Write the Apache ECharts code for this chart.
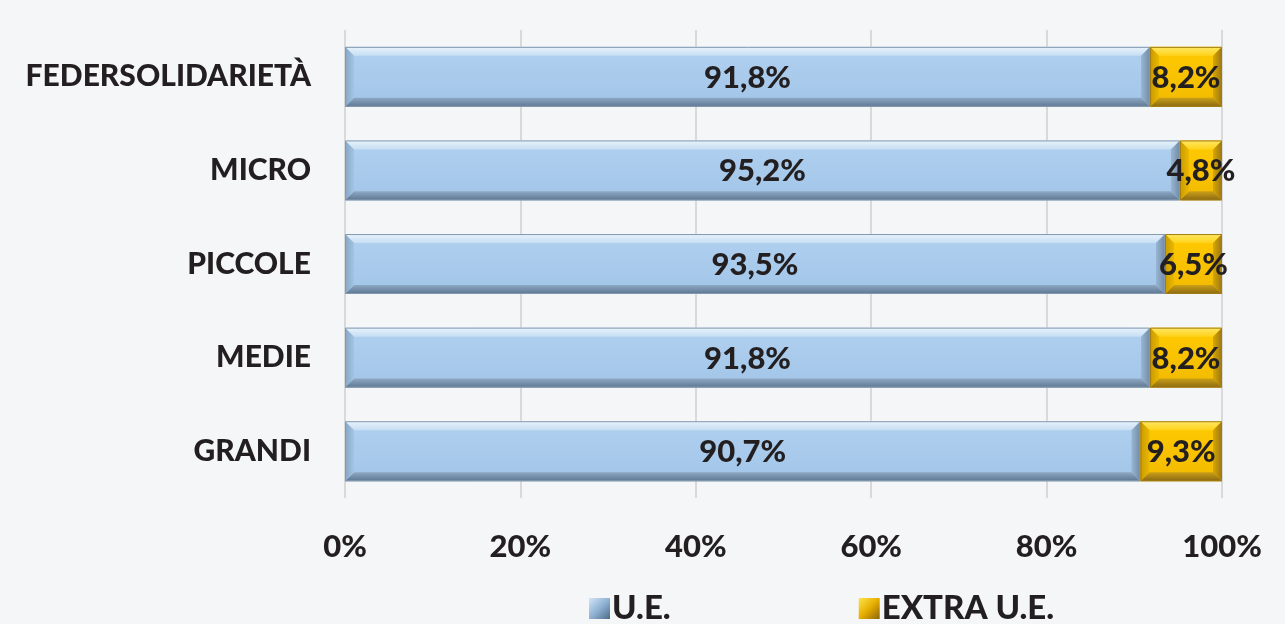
<!DOCTYPE html>
<html>
<head>
<meta charset="utf-8">
<script src="https://cdn.jsdelivr.net/npm/echarts@6/dist/echarts.min.js"></script>
<style>
html,body{margin:0;padding:0;background:#f5f6f8;}
#c{width:1285px;height:624px;}
</style>
</head>
<body>
<div id="c"></div>
<script>
const categories = ['GRANDI', 'MEDIE', 'PICCOLE', 'MICRO', 'FEDERSOLIDARIETÀ'];
const seriesNames = ['U.E.', 'EXTRA U.E.'];
const ueValues = [90.7, 91.8, 93.5, 95.2, 91.8];
const extraValues = [9.3, 8.2, 6.5, 4.8, 8.2];
const xTicks = [0, 20, 40, 60, 80, 100];

const FONT = 'Lato, "Open Sans", sans-serif';
const fmt = v => v.toFixed(1).replace('.', ',') + '%';

// stacked segments built from the arrays: [categoryIndex, start, end, value]
const ueData = ueValues.map((v, i) => [i, 0, v, v]);
const extraData = extraValues.map((v, i) => [i, ueValues[i], ueValues[i] + v, v]);

const lg = (x0, y0, x1, y1, a, b) => new echarts.graphic.LinearGradient(x0, y0, x1, y1, [{offset: 0, color: a}, {offset: 1, color: b}]);

const palettes = {
  blue: {
    main: lg(0,0,0,1,'#b0d0ef','#a2c5e8'),
    top: lg(0,0,0,1,'#e8f3fc','#c6def3'),
    bottom: lg(0,0,0,1,'#8ea9c4','#5d7590'),
    left: lg(0,0,1,0,'#87a6c4','#a3c4e4'),
    right: lg(0,0,1,0,'#98b6d4','#718aa4'),
    stroke: '#8499ad'
  },
  gold: {
    main: lg(0,0,0,1,'#ffca00','#f2ba00'),
    top: lg(0,0,0,1,'#ffe866','#ffd21a'),
    bottom: lg(0,0,0,1,'#caa018','#8a6812'),
    left: lg(0,0,1,0,'#c99a00','#eab800'),
    right: lg(0,0,1,0,'#d8a700','#9a7614'),
    stroke: '#a07c14'
  }
};

function makeRender(pal) {
  return function (params, api) {
    const cat = api.value(0);
    const p0 = api.coord([api.value(1), cat]);
    const p1 = api.coord([api.value(2), cat]);
    const h = api.size([0, 1])[1] * 0.64;
    const x0 = p0[0], x1 = p1[0];
    const y0 = p0[1] - h / 2, y1 = p0[1] + h / 2;
    const w = x1 - x0;
    const bx = Math.min(9, w / 2.5), by = 9;
    const poly = (pts, fill) => ({type: 'polygon', shape: {points: pts}, style: {fill: fill}});
    return {
      type: 'group',
      children: [
        {type: 'rect', shape: {x: x0, y: y0, width: w, height: h}, style: {fill: pal.main}},
        poly([[x0,y0],[x1,y0],[x1-bx,y0+by],[x0+bx,y0+by]], pal.top),
        poly([[x0,y1],[x1,y1],[x1-bx,y1-by],[x0+bx,y1-by]], pal.bottom),
        poly([[x0,y0],[x0+bx,y0+by],[x0+bx,y1-by],[x0,y1]], pal.left),
        poly([[x1,y0],[x1-bx,y0+by],[x1-bx,y1-by],[x1,y1]], pal.right),
        {type: 'rect', shape: {x: x0 + 0.5, y: y0 + 0.5, width: w - 1, height: h - 1},
         style: {fill: null, stroke: pal.stroke, lineWidth: 1}},
        {type: 'text', z2: 10, style: {
          text: fmt(api.value(3)), x: (x0 + x1) / 2, y: p0[1] + 1,
          align: 'center', verticalAlign: 'middle',
          fill: '#231f20', font: '900 31px ' + FONT
        }}
      ]
    };
  };
}

const blueIcon = new echarts.graphic.LinearGradient(0,0,1,1,[{offset:0,color:'#d4e6f6'},{offset:0.5,color:'#8fb2d4'},{offset:1,color:'#4f6a86'}]);
const goldIcon = new echarts.graphic.LinearGradient(0,0,1,1,[{offset:0,color:'#ffe54d'},{offset:0.5,color:'#e6ae00'},{offset:1,color:'#8a6510'}]);

const chart = echarts.init(document.getElementById('c'), null, {renderer: 'canvas'});
chart.setOption({
  backgroundColor: '#f5f6f8',
  animation: false,
  grid: {left: 345, right: 63, top: 30, bottom: 126, containLabel: false},
  legend: {
    bottom: -6,
    left: 584,
    itemGap: 188,
    itemWidth: 21,
    itemHeight: 21,
    icon: 'rect',
    textStyle: {fontFamily: FONT, fontWeight: 900, fontSize: 33, color: '#231f20', padding: [0,0,0,-3]},
    data: [
      {name: seriesNames[0], itemStyle: {color: blueIcon}},
      {name: seriesNames[1], itemStyle: {color: goldIcon}}
    ]
  },
  xAxis: {
    type: 'value',
    min: 0, max: 100, interval: 20,
    axisLine: {show: false},
    axisTick: {show: false},
    splitLine: {show: true, lineStyle: {color: '#d9d9d9', width: 2}},
    axisLabel: {
      margin: 33,
      formatter: v => xTicks.includes(v) ? v + '%' : '',
      fontFamily: FONT, fontWeight: 900, fontSize: 31, color: '#231f20'
    }
  },
  yAxis: {
    type: 'category',
    data: categories,
    axisLine: {show: false},
    axisTick: {show: false},
    axisLabel: {margin: 34, fontFamily: FONT, fontWeight: 900, fontSize: 30, color: '#231f20'}
  },
  series: [
    {name: seriesNames[0], type: 'custom', data: ueData, encode: {x: [1, 2], y: 0},
     renderItem: makeRender(palettes.blue), itemStyle: {color: '#a8cbec'}},
    {name: seriesNames[1], type: 'custom', data: extraData, encode: {x: [1, 2], y: 0},
     renderItem: makeRender(palettes.gold), itemStyle: {color: '#f5c000'}}
  ]
});
</script>
</body>
</html>
